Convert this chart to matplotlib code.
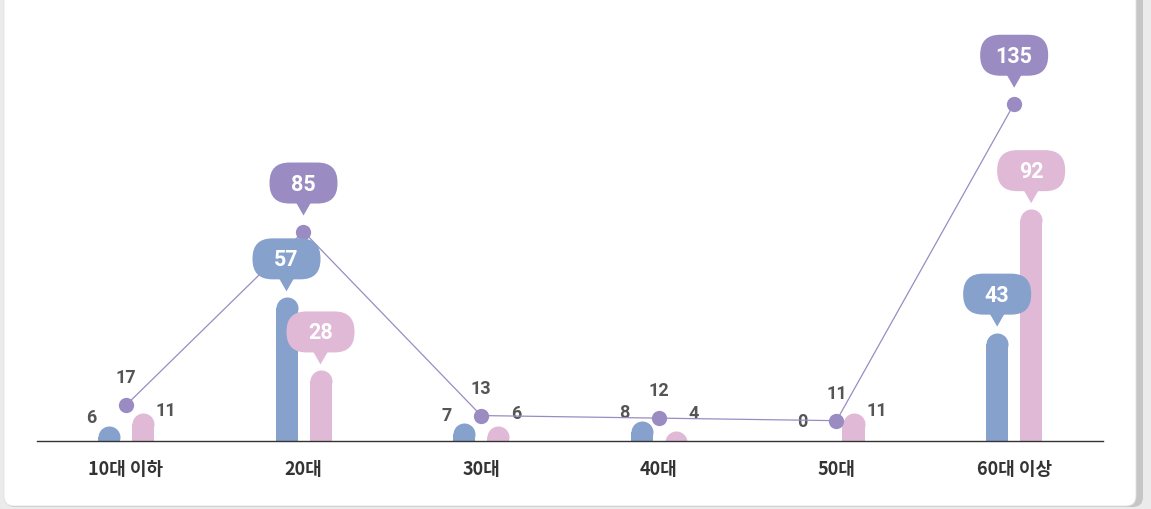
import numpy as np
import matplotlib
matplotlib.use("Agg")
import matplotlib.pyplot as plt
from matplotlib.patches import FancyBboxPatch, Polygon
from matplotlib.transforms import IdentityTransform

# --- Data ---
categories = ["10대 이하", "20대", "30대", "40대", "50대", "60대 이상"]
bar_blue = [6, 57, 7, 8, 0, 43]
bar_pink = [11, 28, 6, 4, 11, 92]
line_total = [17, 85, 13, 12, 11, 135]

BLUE, PINK, PURPLE = "#85a1cc", "#dfb9d5", "#9a8bc3"
GRAY_TXT = "#555555"
NUM_FONT = ["Roboto", "DejaVu Sans"]
KR_FONT = ["Noto Sans CJK KR", "DejaVu Sans"]

W, H = 1151, 510
fig = plt.figure(figsize=(W / 100, H / 100), dpi=100, facecolor="#ebebeb")
ID = IdentityTransform()

# card background with a right-side shadow
fig.add_artist(FancyBboxPatch((5, 2), 1138, 540, boxstyle="round,pad=0,rounding_size=10",
                              transform=ID, fc="#c6c6c6", ec="none", zorder=-3))
fig.add_artist(FancyBboxPatch((4, 3), 1132, 540, boxstyle="round,pad=0,rounding_size=10",
                              transform=ID, fc="white", ec="#e2e2e2", lw=0.6, zorder=-2))

# --- Axes: baseline at y=441 px from top, 2.52 px per unit ---
ax = fig.add_axes([37 / W, 68 / H, 1066 / W, 412 / H])
ax.patch.set_alpha(0)
x = np.arange(len(categories))
ax.set_xlim(-0.5, len(categories) - 0.5)
ax.set_ylim(0, 412 / 2.52)

px_per_x = 1066 / len(categories)
bw = 22 / px_per_x
off = 17 / px_per_x
r = 11 / 2.52  # cap radius in data units

for vals, dx, col in [(bar_blue, -off, BLUE), (bar_pink, off, PINK)]:
    v = np.array(vals, dtype=float)
    ax.bar(x + dx, v - r, width=bw, color=col, zorder=2)
    ax.plot(x + dx, v - r, ls="none", marker="o", ms=22 * 0.72, mfc=col, mec="none", zorder=2)

for s in ["left", "right", "top"]:
    ax.spines[s].set_visible(False)
ax.spines["bottom"].set_color("#333333")
ax.spines["bottom"].set_linewidth(1.0)
ax.spines["bottom"].set_zorder(3)
ax.set_yticks([])
ax.set_xticks(x, categories)
ax.tick_params(axis="x", length=0, pad=13, labelsize=13, labelcolor="#333333")
for lbl in ax.get_xticklabels():
    lbl.set_fontweight("bold")
    lbl.set_family(KR_FONT)

# line on twin axis (slightly offset scale)
ax2 = ax.twinx()
ax2.set_ylim(3.05, 3.05 + 412 / 2.556)
ax2.plot(x, line_total, color=PURPLE, lw=0.9, marker="o", ms=11, mec="none", clip_on=False, zorder=4)
for s in ax2.spines.values():
    s.set_visible(False)
ax2.set_yticks([])


def bubble(px, py, gap, text, color):
    tip = py + gap
    base = tip + 12
    fig.add_artist(FancyBboxPatch((px - 34, base), 68, 41, boxstyle="round,pad=0,rounding_size=20",
                                  transform=ID, fc=color, ec="none", zorder=5))
    fig.add_artist(Polygon([[px - 8, base + 2], [px + 8, base + 2], [px, tip]], closed=True,
                           transform=ID, fc=color, ec="none", zorder=5))
    fig.text(px, base + 20, text, transform=ID, ha="center", va="center", color="white",
             fontsize=15.5, fontweight="bold", family=NUM_FONT, zorder=6)


small = dict(color=GRAY_TXT, fontsize=13, fontweight="bold", family=NUM_FONT,
             textcoords="offset pixels", annotation_clip=False)

for i in range(len(categories)):
    # blue bars
    vb = bar_blue[i]
    if vb >= 20:
        px, py = ax.transData.transform((x[i] - off, vb))
        bubble(px, py, 6, str(vb), BLUE)
    else:
        ax.annotate(str(vb), (x[i] - off, max(vb + 3.5, 8)), xytext=(-12, 0),
                    ha="right", va="center", **small)
    # pink bars
    vp = bar_pink[i]
    if vp >= 20:
        px, py = ax.transData.transform((x[i] + off, vp))
        bubble(px, py, 6, str(vp), PINK)
    else:
        ax.annotate(str(vp), (x[i] + off, max(vp + 1.5, 11)), xytext=(13, 0),
                    ha="left", va="center", **small)
    # line
    vt = line_total[i]
    if vt >= 20:
        px, py = ax2.transData.transform((x[i], vt))
        bubble(px, py, 16, str(vt), PURPLE)
    else:
        ax2.annotate(str(vt), (x[i], vt), xytext=(0, 28), ha="center", va="center", **small)

fig.savefig("out.png", dpi=100, facecolor=fig.get_facecolor())
